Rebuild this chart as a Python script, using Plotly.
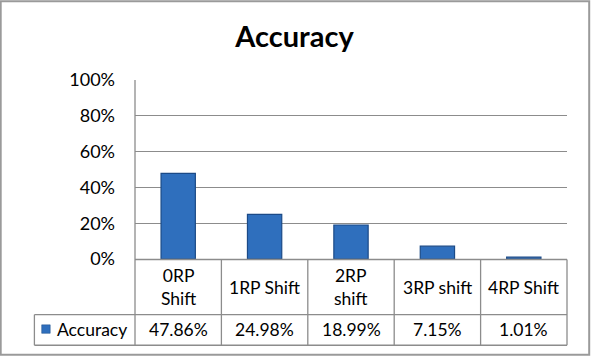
import plotly.graph_objects as go

categories = ["0RP<br>Shift", "1RP Shift", "2RP<br>shift", "3RP shift", "4RP Shift"]
accuracy = [47.86, 24.98, 18.99, 7.15, 1.01]
value_labels = ["47.86%", "24.98%", "18.99%", "7.15%", "1.01%"]
series_name = "Accuracy"
y_ticks = [0, 20, 40, 60, 80, 100]
y_tick_labels = ["0%", "20%", "40%", "60%", "80%", "100%"]

W, H = 591, 360
L, R, T, B = 135.3, 23.7, 80, 100.5
pw = W - L - R
ph = H - T - B

def px_x(x):
    return (x - L) / pw

def px_y(y):
    return (H - B - y) / ph

FONT = "Lato"
GRID = "#8c8c8c"
TFS = 17.5

fig = go.Figure()
fig.add_trace(go.Bar(
    x=list(range(len(categories))), y=accuracy, width=0.397,
    marker=dict(color="#2f6fbd", line=dict(color="#1b4a87", width=1.2)),
    name=series_name, showlegend=False, hoverinfo="skip",
))

shapes = []
row1_top, row2_top, bottom = 260, 315.3, 346
table_left = 34.7
col_w = pw / len(categories)
shapes.append(dict(type="line", xref="paper", yref="paper", x0=px_x(L), x1=1, y0=px_y(row1_top), y1=px_y(row1_top), line=dict(color=GRID, width=1.3)))
for yy in (row2_top, bottom):
    shapes.append(dict(type="line", xref="paper", yref="paper", x0=px_x(table_left), x1=1, y0=px_y(yy), y1=px_y(yy), line=dict(color=GRID, width=1.3)))
shapes.append(dict(type="line", xref="paper", yref="paper", x0=px_x(table_left), x1=px_x(table_left), y0=px_y(row2_top), y1=px_y(bottom), line=dict(color=GRID, width=1.3)))
for i in range(len(categories) + 1):
    xx = L + i * col_w
    y_start = 1 if i == 0 else px_y(row1_top)
    shapes.append(dict(type="line", xref="paper", yref="paper", x0=px_x(xx), x1=px_x(xx), y0=y_start, y1=px_y(bottom), line=dict(color=GRID, width=1.3)))
shapes.append(dict(type="rect", xref="paper", yref="paper", x0=px_x(42), x1=px_x(50.5), y0=px_y(334), y1=px_y(325.5), line=dict(color="#1b4a87", width=0.5), fillcolor="#2f6fbd"))
shapes.append(dict(type="rect", xref="paper", yref="paper", x0=px_x(1), x1=px_x(589.5), y0=px_y(1), y1=px_y(355.5), line=dict(color="#9a9a9a", width=2)))

annotations = []
for i, c in enumerate(categories):
    annotations.append(dict(x=i, xref="x", y=px_y((row1_top + row2_top) / 2), yref="paper", text=c, showarrow=False, font=dict(family=FONT, size=TFS, color="#000000"), xanchor="center", yanchor="middle"))
    annotations.append(dict(x=i, xref="x", y=px_y((row2_top + bottom) / 2), yref="paper", text=value_labels[i], showarrow=False, font=dict(family=FONT, size=TFS, color="#000000"), xanchor="center", yanchor="middle"))
annotations.append(dict(x=px_x(55.5), xref="paper", y=px_y((row2_top + bottom) / 2), yref="paper", text=series_name, showarrow=False, font=dict(family=FONT, size=TFS, color="#000000"), xanchor="left", yanchor="middle"))

fig.update_layout(
    width=W, height=H,
    margin=dict(l=L, r=R, t=T, b=B, pad=0),
    paper_bgcolor="white", plot_bgcolor="white",
    title=dict(text="<b>Accuracy</b>", x=294.5 / W, xref="container", xanchor="center", y=1 - 37 / H, yanchor="middle", font=dict(family=FONT, size=29, color="#000000")),
    xaxis=dict(range=[-0.5, len(categories) - 0.5], showticklabels=False, showgrid=False, zeroline=False, showline=False, ticks=""),
    yaxis=dict(range=[0, 100], tickvals=y_ticks, ticktext=y_tick_labels, showgrid=True, gridcolor=GRID, gridwidth=1.3,
               zeroline=False, showline=False, ticks="", ticklabelstandoff=19,
               tickfont=dict(family=FONT, size=18, color="#000000")),
    shapes=shapes, annotations=annotations, bargap=0.6,
)

fig.write_html("out.html")
